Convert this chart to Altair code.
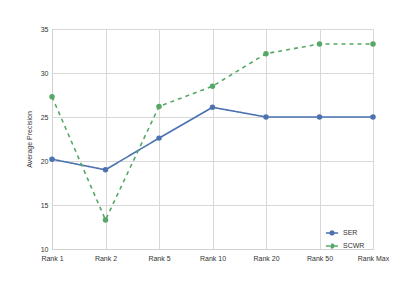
import altair as alt
import pandas as pd

ranks = ["Rank 1", "Rank 2", "Rank 5", "Rank 10", "Rank 20", "Rank 50", "Rank Max"]
ser = [20.2, 19.0, 22.6, 26.1, 25.0, 25.0, 25.0]
scwr = [27.3, 13.3, 26.2, 28.5, 32.2, 33.3, 33.3]
series = ["SER", "SCWR"]
colors = ["#4c72b0", "#55a868"]

rows = []
for r, v in zip(ranks, ser):
    rows.append({"rank": r, "value": v, "series": "SER"})
for r, v in zip(ranks, scwr):
    rows.append({"rank": r, "value": v, "series": "SCWR"})
df = pd.DataFrame(rows)

legend_symbol = "M -1 0 L 1 0 M 0.3 0 A 0.3 0.3 0 1 1 -0.3 0 A 0.3 0.3 0 1 1 0.3 0 Z"

chart = alt.Chart(df).mark_line(
    point=alt.OverlayMarkDef(size=30, filled=True), strokeWidth=1.6
).encode(
    x=alt.X("rank:N", sort=ranks, title=None,
            scale=alt.Scale(type="point", padding=0),
            axis=alt.Axis(labelAngle=0, labelFontSize=7, labelColor="#333", ticks=False,
                          domainColor="#d0d0d0", gridColor="#d9d9d9", grid=True, labelPadding=5)),
    y=alt.Y("value:Q", title="Average Precision",
            scale=alt.Scale(domain=[10, 35], nice=False),
            axis=alt.Axis(values=[10, 15, 20, 25, 30, 35], labelFontSize=7, labelColor="#333",
                          ticks=False, domainColor="#d0d0d0", gridColor="#d9d9d9",
                          titleFontSize=7, titleFontWeight="normal", titleColor="#333",
                          labelPadding=4, titlePadding=8)),
    color=alt.Color("series:N", sort=series, scale=alt.Scale(domain=series, range=colors),
                    legend=alt.Legend(title=None, orient="none", legendX=273, legendY=197,
                                      labelFontSize=7, labelColor="#333",
                                      symbolType=legend_symbol, symbolStrokeWidth=1.6,
                                      symbolSize=150, rowPadding=0, labelOffset=4,
                                      symbolDash=[1, 0])),
    strokeDash=alt.StrokeDash("series:N", sort=series,
                              scale=alt.Scale(domain=series, range=[[1, 0], [4, 4]]),
                              legend=None),
).properties(
    width=321, height=220,
    autosize=alt.AutoSizeParams(type="none"),
    padding={"left": 44, "top": 21, "right": 20, "bottom": 20},
).configure_view(stroke="#d0d0d0").configure_axis(labelFont="Liberation Sans", titleFont="Liberation Sans").configure_legend(labelFont="Liberation Sans")

chart.save("out.html", embed_options={"renderer": "svg", "actions": False})
